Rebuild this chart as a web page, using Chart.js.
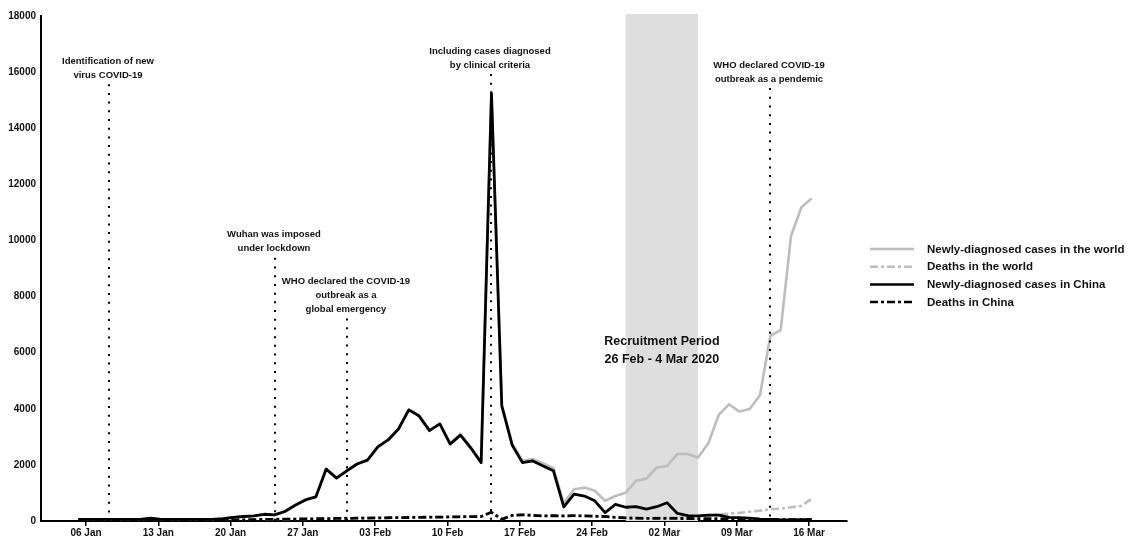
<!DOCTYPE html>
<html>
<head>
<meta charset="utf-8">
<script src="https://cdn.jsdelivr.net/npm/chart.js@4"></script>
<style>
  html, body { margin: 0; padding: 0; background: #fff; }
  #wrap { width: 1137px; height: 536px; position: relative; }
</style>
</head>
<body>
<div id="wrap"><canvas id="c"></canvas></div>
<script>
// ---------------- DATA ----------------
const tickLabels = ['06 Jan','13 Jan','20 Jan','27 Jan','03 Feb','10 Feb','17 Feb','24 Feb','02 Mar','09 Mar','16 Mar'];

const chinaCases = [60,60,60,60,60,60,60,100,60,60,60,60,60,60,80,
  130,160,180,240,220,340,560,750,860,1850,1530,1790,2030,2170,2640,2890,3280,3960,3740,3220,3460,
  2740,3060,2600,2080,15240,4100,2710,2080,2140,1960,1790,500,960,890,720,300,590,490,510,420,510,650,
  270,190,180,210,210,130,120,100,70,60,40,40,50,50];

const worldCases = [60,60,60,60,60,60,60,100,60,60,60,60,60,60,80,
  130,160,180,240,220,340,575,765,875,1865,1545,1805,2045,2185,2655,2905,3295,3975,3755,3235,3475,
  2780,3100,2640,2120,15300,4140,2760,2150,2210,2050,1880,630,1130,1190,1080,720,890,1010,1430,1510,1910,1960,
  2390,2390,2260,2770,3780,4160,3900,3990,4490,6600,6800,10160,11180,11500];

const chinaDeaths = [20,20,20,20,20,20,20,20,20,20,20,20,20,20,20,
  30,40,50,55,60,65,70,75,80,85,90,95,100,105,110,115,120,125,130,135,140,
  145,150,155,160,310,60,200,220,200,180,190,180,190,180,170,160,130,110,100,95,95,95,
  90,90,85,85,80,75,70,65,60,55,50,45,45,45];

const worldDeaths = [20,20,20,20,20,20,20,20,20,20,20,20,20,20,20,
  30,40,50,55,60,65,70,75,80,85,90,95,100,105,110,115,120,125,130,135,140,
  145,150,155,160,310,60,200,220,200,180,190,180,190,180,170,160,130,110,100,95,110,120,
  130,150,160,190,230,260,290,330,370,420,440,490,540,790];

// events: point index, top value of dotted line, text lines
const eventIndex = [3, 19, 26, 40, 67];
const eventTop = [15570, 9380, 7220, 15930, 15430];
const eventText = [
  ['Identification of new', 'virus COVID-19'],
  ['Wuhan was imposed', 'under lockdown'],
  ['WHO declared the COVID-19', 'outbreak as a', 'global emergency'],
  ['Including cases diagnosed', 'by clinical criteria'],
  ['WHO declared COVID-19', 'outbreak as a pendemic']
];
const recruitStart = 53, recruitEnd = 60, recruitTop = 18070;
const recruitText = ['Recruitment Period', '26 Feb - 4 Mar 2020'];
const recruitTextY = 6380;

const seriesNames = ['Newly-diagnosed cases in the world','Deaths in the world','Newly-diagnosed cases in China','Deaths in China'];

// ---------------- CHART ----------------
const FONT = "'Liberation Sans', Arial, sans-serif";
const GRAY = '#bdbdbd';
const DASH = [8, 3, 3, 3];
const TICK_OFFSET = 0.745;

function toXY(arr) { return arr.map((v, i) => ({ x: i, y: v })); }

const overlay = {
  id: 'overlay',
  beforeDatasetsDraw(chart) {
    const { ctx } = chart;
    const xs = chart.scales.x, ys = chart.scales.y;
    const x0 = xs.getPixelForValue(recruitStart), x1 = xs.getPixelForValue(recruitEnd);
    const y0 = ys.getPixelForValue(recruitTop), y1 = ys.getPixelForValue(0);
    ctx.save();
    ctx.fillStyle = '#dedede';
    ctx.fillRect(x0, y0, x1 - x0, y1 - y0);
    ctx.restore();
  },
  afterDatasetsDraw(chart) {
    const { ctx } = chart;
    const xs = chart.scales.x, ys = chart.scales.y;
    const yb = ys.getPixelForValue(0);
    ctx.save();
    eventIndex.forEach((ix, k) => {
      const x = Math.round(xs.getPixelForValue(ix));
      const yt = ys.getPixelForValue(eventTop[k]);
      ctx.beginPath();
      ctx.setLineDash([2, 6.7]);
      ctx.lineWidth = 2;
      ctx.strokeStyle = '#000';
      ctx.moveTo(x, yt);
      ctx.lineTo(x, yb);
      ctx.stroke();
      ctx.setLineDash([]);
      ctx.fillStyle = '#111';
      ctx.font = 'bold 9.5px ' + FONT;
      ctx.textAlign = 'center';
      ctx.textBaseline = 'middle';
      const lines = eventText[k];
      lines.forEach((t, j) => {
        ctx.fillText(t, x - 1, yt - 9 - (lines.length - 1 - j) * 14);
      });
    });
    const xc = xs.getPixelForValue((recruitStart + recruitEnd) / 2);
    const yc = ys.getPixelForValue(recruitTextY);
    ctx.font = 'bold 12.5px ' + FONT;
    ctx.fillStyle = '#111';
    ctx.textAlign = 'center';
    ctx.textBaseline = 'middle';
    recruitText.forEach((t, j) => ctx.fillText(t, xc, yc + j * 18));
    ctx.restore();
  },
  afterDraw(chart) {
    const { ctx } = chart;
    const lx0 = 870, lx1 = 914, tx = 927, ly0 = 249, dy = 17.7;
    ctx.save();
    chart.data.datasets.forEach((ds, k) => {
      const y = ly0 + k * dy;
      ctx.beginPath();
      ctx.setLineDash(ds.borderDash || []);
      ctx.lineWidth = 2.5;
      ctx.strokeStyle = ds.borderColor;
      ctx.moveTo(lx0, y);
      ctx.lineTo(lx1, y);
      ctx.stroke();
      ctx.setLineDash([]);
      ctx.font = 'bold 11.5px ' + FONT;
      ctx.fillStyle = '#111';
      ctx.textAlign = 'left';
      ctx.textBaseline = 'middle';
      ctx.fillText(ds.label, tx, y + 0.5);
    });
    ctx.restore();
  }
};

new Chart(document.getElementById('c'), {
  type: 'line',
  data: {
    datasets: [
      { label: seriesNames[0], data: toXY(worldCases), borderColor: GRAY, borderWidth: 2.6, order: 3 },
      { label: seriesNames[1], data: toXY(worldDeaths), borderColor: GRAY, borderWidth: 2.6, borderDash: DASH, order: 4 },
      { label: seriesNames[2], data: toXY(chinaCases), borderColor: '#000', borderWidth: 2.8, order: 1 },
      { label: seriesNames[3], data: toXY(chinaDeaths), borderColor: '#000', borderWidth: 2.8, borderDash: DASH, order: 2 }
    ]
  },
  options: {
    responsive: true,
    maintainAspectRatio: false,
    animation: false,
    layout: { padding: { top: 16, right: 290, left: 0, bottom: 0 } },
    elements: {
      point: { radius: 0 },
      line: { tension: 0, borderJoinStyle: 'round', borderCapStyle: 'butt', fill: false }
    },
    plugins: { legend: { display: false }, tooltip: { enabled: false } },
    scales: {
      x: {
        type: 'linear',
        min: -3.61,
        max: 74.42,
        afterFit(s) { s.height = 15; },
        afterBuildTicks(s) { s.ticks = tickLabels.map((l, k) => ({ value: TICK_OFFSET + 7 * k })); },
        ticks: {
          autoSkip: false, maxRotation: 0, padding: 1,
          color: '#111', font: { family: FONT, size: 10, weight: 'bold' },
          callback(v, idx) { return tickLabels[idx]; }
        },
        grid: { display: true, drawOnChartArea: false, drawTicks: true, tickLength: 5, color: '#000', lineWidth: 1.5 },
        border: { display: true, color: '#000', width: 2 }
      },
      y: {
        min: 0, max: 18000,
        afterFit(s) { s.width = 41; },
        ticks: {
          stepSize: 2000, padding: 5, color: '#111', font: { family: FONT, size: 10, weight: 'bold' },
          callback(v) { return String(v); }
        },
        grid: { display: false, drawTicks: false },
        border: { display: true, color: '#000', width: 2 }
      }
    }
  },
  plugins: [overlay]
});
</script>
</body>
</html>
